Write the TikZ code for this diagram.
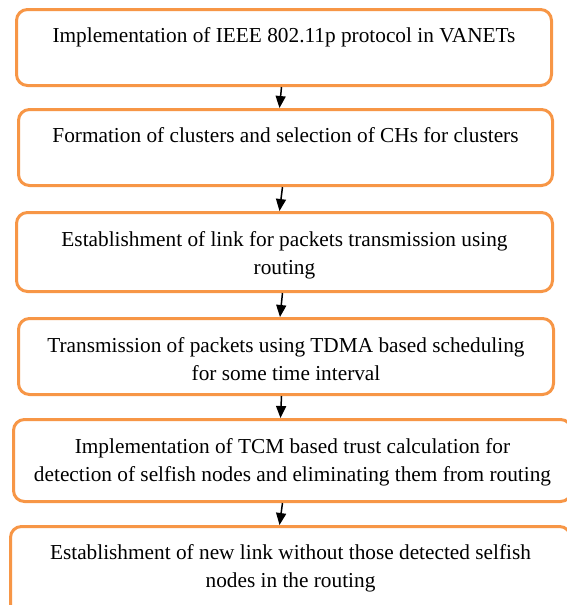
\documentclass[tikz,border=0pt]{standalone}
\usepackage{fontspec}
\setmainfont{Liberation Serif}
\usetikzlibrary{arrows.meta}
\definecolor{boxorange}{HTML}{F79646}
\tikzset{
  stepbox/.style={draw=boxorange, line width=3pt, rounded corners=11pt, inner sep=0pt, anchor=north west, fill=white},
  steptext/.style={anchor=north, inner sep=0pt, align=center, font=\fontsize{21.3}{28}\selectfont, text=black},
  flowarrow/.style={draw=black, line width=1.5pt, -{Triangle[length=12pt,width=10pt]}}
}
\begin{document}
\begin{tikzpicture}[x=1pt,y=-1pt]
\useasboundingbox (0,0) rectangle (566,605);
% boxes
\node[stepbox, minimum width=535pt, minimum height=76pt] (b1) at (15,8) {};
\node[stepbox, minimum width=534pt, minimum height=76pt] (b2) at (17,108) {};
\node[stepbox, minimum width=536pt, minimum height=79pt] (b3) at (15,211) {};
\node[stepbox, minimum width=535pt, minimum height=76pt] (b4) at (17,317) {};
\node[stepbox, minimum width=558pt, minimum height=82pt] (b5) at (12,418) {};
\node[stepbox, minimum width=560pt, minimum height=100pt] (b6) at (9,525) {};
% texts
\node[steptext] (t1) at ([yshift=-19pt]b1.north) {Implementation of IEEE 802.11p protocol in VANETs};
\node[steptext] (t2) at ([yshift=-19pt]b2.north) {Formation of clusters and selection of CHs for clusters};
\node[steptext] (t3) at ([yshift=-20pt]b3.north) {Establishment of link for packets transmission using\\routing};
\node[steptext] (t4) at ([yshift=-20pt]b4.north) {Transmission of packets using TDMA based scheduling\\for some time interval};
\node[steptext] (t5) at ([yshift=-20pt]b5.north) {Implementation of TCM based trust calculation for\\detection of selfish nodes and eliminating them from routing};
\node[steptext] (t6) at ([yshift=-19pt]b6.north) {Establishment of new link without those detected selfish\\nodes in the routing};
% arrows
\draw[flowarrow] ([xshift=-2.5pt]b1.south) -- ([xshift=-6pt]b2.north);
\draw[flowarrow] ([xshift=-3pt]b2.south) -- ([xshift=-5pt]b3.north);
\draw[flowarrow] ([xshift=-2pt]b3.south) -- ([xshift=-6pt]b4.north);
\draw[flowarrow] ([xshift=-4.5pt]b4.south) -- ([xshift=-12pt]b5.north);
\draw[flowarrow] ([xshift=-10pt]b5.south) -- ([xshift=-11pt]b6.north);
\end{tikzpicture}
\end{document}
